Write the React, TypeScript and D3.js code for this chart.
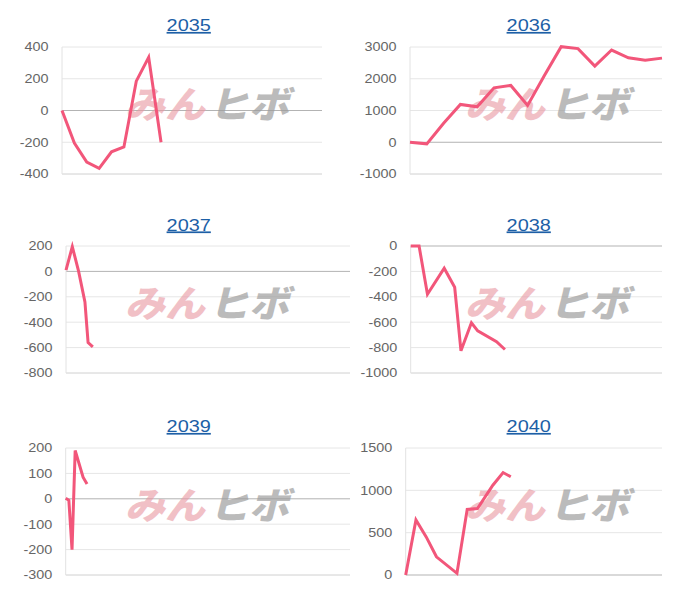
import React from 'react';
import * as d3 from 'd3';

const titles = ['2035', '2036', '2037', '2038', '2039', '2040'];

const x2035 = [0, 1, 2, 3, 4, 5, 6, 7, 8];
const v2035 = [0, -205, -325, -365, -260, -230, 185, 335, -200];
const x2036 = [0, 1, 2, 3, 4, 5, 6, 7, 8, 9, 10, 11, 12, 13, 14, 15];
const v2036 = [0, -50, 600, 1190, 1115, 1715, 1790, 1160, 2100, 3010, 2950, 2400, 2905, 2660, 2580, 2650];
const x2037 = [0, 4, 8, 12, 14, 17];
const v2037 = [10, 195, 0, -240, -560, -595];
const x2038 = [0, 2, 4, 8, 10.5, 12, 14.5, 16, 20.5, 22.5];
const v2038 = [0, 0, -380, -175, -325, -825, -605, -668, -753, -815];
const x2039 = [0, 2, 4, 6, 11, 13.5];
const v2039 = [2, -6, -200, 190, 85, 58];
const x2040 = [0, 2, 4, 6, 10, 12, 14, 17, 19, 20.5];
const v2040 = [0, 650, 450, 215, 20, 775, 785, 1060, 1210, 1160];

const xsList = [x2035, x2036, x2037, x2038, x2039, x2040];
const vsList = [v2035, v2036, v2037, v2038, v2039, v2040];
const yDomains: [number, number][] = [[-400, 400], [-1000, 3000], [-800, 200], [-1000, 0], [-300, 200], [0, 1500]];
const yStep = [200, 1000, 200, 200, 100, 500];
const xMax = [21, 15, 180, 60, 180, 50];

const layout = [
  { left: 62, right: 322, top: 47, bottom: 174, cx: 188.7, ty: 31, wx: 123 },
  { left: 410, right: 662, top: 47, bottom: 174, cx: 528.7, ty: 31, wx: 463 },
  { left: 66, right: 350, top: 246, bottom: 373, cx: 188.7, ty: 230.5, wx: 123 },
  { left: 410.7, right: 662, top: 246, bottom: 373, cx: 528.7, ty: 230.5, wx: 463 },
  { left: 65.7, right: 350, top: 448, bottom: 575, cx: 188.7, ty: 432, wx: 123 },
  { left: 405.7, right: 662, top: 448, bottom: 575, cx: 528.7, ty: 432, wx: 463 },
];

const LINE = '#f2567a';
const FONT = '"Liberation Sans", Arial, sans-serif';

function Panel({ i }: { i: number }) {
  const L = layout[i];
  const xs = xsList[i];
  const vs = vsList[i];
  const [lo, hi] = yDomains[i];
  const x = d3.scaleLinear().domain([0, xMax[i]]).range([L.left, L.right]);
  const y = d3.scaleLinear().domain([lo, hi]).range([L.bottom, L.top]);
  const ticks = d3.range(lo, hi + yStep[i] / 2, yStep[i]);
  const pts = xs.map((d, k) => [d, vs[k]] as [number, number]);
  const line = d3.line<[number, number]>().x(d => x(d[0])).y(d => y(d[1]));
  const wy = L.bottom - 56;
  return (
    <g>
      <text
        transform={`translate(${L.cx},${L.ty}) scale(1.17,1)`}
        textAnchor="middle"
        fontFamily={FONT}
        fontSize={17}
        fill="#1d5fa6"
        textDecoration="underline"
      >
        {titles[i]}
      </text>
      {ticks.map(t => {
        const stroke = t === 0 ? '#b3b3b3' : t === lo ? '#d0d0d0' : '#e6e6e6';
        return (
          <g key={t}>
            <line x1={L.left} x2={L.right} y1={y(t)} y2={y(t)} stroke={stroke} strokeWidth={1} />
            <text
              transform={`translate(${L.left - 13.5},${y(t) + 4.3}) scale(1.2,1)`}
              textAnchor="end"
              fontFamily={FONT}
              fontSize={12}
              fill="#666"
            >
              {t}
            </text>
          </g>
        );
      })}
      <line x1={L.left} x2={L.left} y1={L.top} y2={L.bottom} stroke="#e2e2e2" strokeWidth={1} />
      <g transform={`translate(${L.wx},${wy}) skewX(-14)`} fontFamily='"Noto Sans CJK JP", sans-serif' fontWeight={900} fontSize={37}>
        <text x={2} y={0} textLength={80} lengthAdjust="spacingAndGlyphs" fill="#e99aa4" opacity={0.62}>みん</text>
        <text x={86} y={0} textLength={80} lengthAdjust="spacingAndGlyphs" fill="#9c9c9c" opacity={0.68}>ヒボ</text>
      </g>
      <path d={line(pts) || ''} fill="none" stroke={LINE} strokeWidth={3} strokeLinejoin="miter" strokeLinecap="butt" />
    </g>
  );
}

export default function App() {
  return (
    <svg width={700} height={600} style={{ position: 'absolute', left: 0, top: 0, background: '#fff' }}>
      {titles.map((_, i) => (
        <Panel key={i} i={i} />
      ))}
    </svg>
  );
}
